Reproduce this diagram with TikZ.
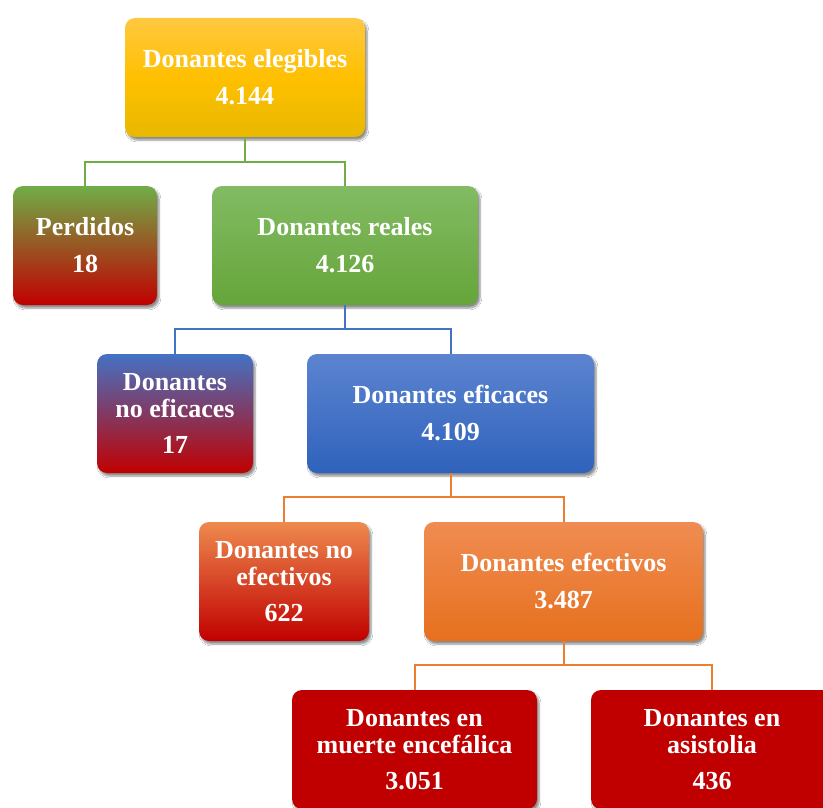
\documentclass[tikz,border=0pt]{standalone}
\usepackage{fontspec}
\setmainfont{Liberation Serif}
\usetikzlibrary{shadows.blur}
\definecolor{cgreen}{HTML}{70AD47}
\definecolor{cblue}{HTML}{4472C4}
\definecolor{corange}{HTML}{ED7D31}
\definecolor{cred}{HTML}{C00000}
\tikzset{
  box/.style={rounded corners=10pt, minimum height=119pt, text=white,
    font=\fontsize{26}{27}\selectfont\bfseries, align=center, inner sep=0pt,
    blur shadow={shadow xshift=2pt, shadow yshift=-3pt, shadow blur steps=6, shadow opacity=45}},
  gline/.style={draw=cgreen, line width=2pt},
  bline/.style={draw=cblue, line width=2pt},
  oline/.style={draw=corange, line width=2pt},
}
\begin{document}
\begin{tikzpicture}[x=1pt,y=-1pt]
\useasboundingbox (0,0) rectangle (823,808);
\clip (0,0) rectangle (823,808);
\fill[white] (0,0) rectangle (823,808);
\node[box, minimum width=240pt, top color={rgb,255:red,255;green,200;blue,64}, bottom color={rgb,255:red,232;green,184;blue,0}, middle color={rgb,255:red,255;green,192;blue,0}] (top) at (245,77.5) {Donantes elegibles\\[10pt]4.144};
\node[box, minimum width=144pt, top color=cgreen, bottom color=cred] (perd) at (85,245.5) {Perdidos\\[10pt]18};
\node[box, minimum width=266pt, top color={rgb,255:red,130;green,187;blue,99}, bottom color={rgb,255:red,102;green,165;blue,58}] (real) at (345,245.5) {Donantes reales\\[10pt]4.126};
\node[box, minimum width=156pt, top color=cblue, bottom color=cred] (noef) at (175,413.5) {Donantes\\no eficaces\\[9pt]17};
\node[box, minimum width=287pt, top color={rgb,255:red,92;green,132;blue,208}, bottom color={rgb,255:red,47;green,98;blue,188}] (efic) at (450.5,413.5) {Donantes eficaces\\[10pt]4.109};
\node[box, minimum width=170pt, top color={rgb,255:red,238;green,138;blue,78}, middle color={rgb,255:red,200;green,80;blue,20}, bottom color=cred] (noefe) at (284,581.5) {Donantes no\\efectivos\\[9pt]622};
\node[box, minimum width=279pt, top color={rgb,255:red,240;green,140;blue,82}, bottom color={rgb,255:red,230;green,112;blue,30}] (efe) at (563.5,581.5) {Donantes efectivos\\[10pt]3.487};
\node[box, minimum width=245pt, fill=cred] (muer) at (414.5,749.5) {Donantes en\\muerte encefálica\\[9pt]3.051};
\node[box, minimum width=242pt, fill=cred] (asis) at (712,749.5) {Donantes en\\asistolia\\[9pt]436};
\draw[gline] (top.south) -- ++(0,25) coordinate (j1);
\draw[gline] (j1) -| (perd.north);
\draw[gline] (j1) -| (real.north);
\draw[bline] (real.south) -- ++(0,24) coordinate (j2);
\draw[bline] (j2) -| (noef.north);
\draw[bline] (j2) -| (efic.north);
\draw[oline] (efic.south) -- ++(0,24) coordinate (j3);
\draw[oline] (j3) -| (noefe.north);
\draw[oline] (j3) -| (efe.north);
\draw[oline] (efe.south) -- ++(0,24) coordinate (j4);
\draw[oline] (j4) -| (muer.north);
\draw[oline] (j4) -| (asis.north);
\end{tikzpicture}
\end{document}
